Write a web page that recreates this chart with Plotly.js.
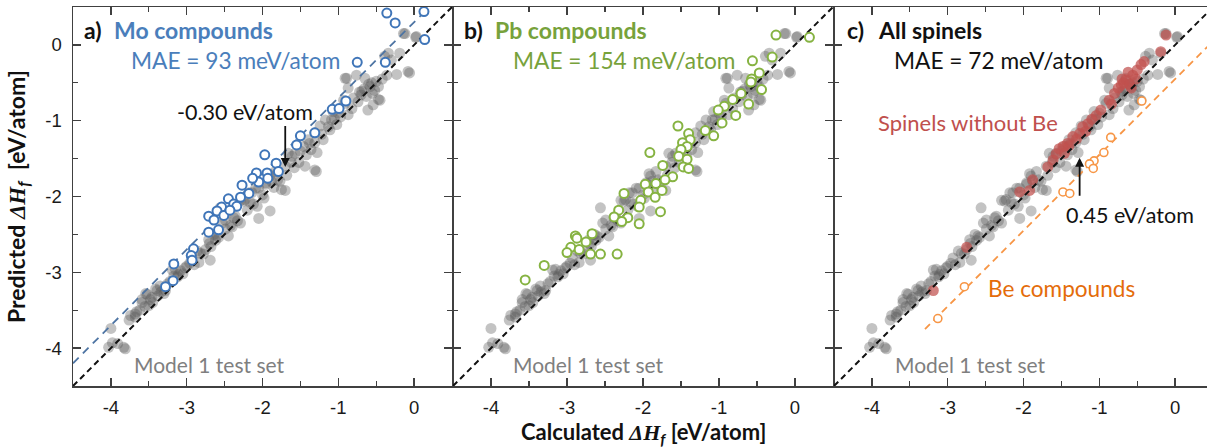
<!DOCTYPE html>
<html>
<head>
<meta charset="utf-8">
<script src="https://cdn.plot.ly/plotly-3.0.1.min.js"></script>
<style>html,body{margin:0;padding:0;background:#fff;}#chart{width:1207px;height:448px;}</style>
</head>
<body>
<div id="chart"></div>
<script>
// ---------- data ----------
const tickVals = [-4, -3, -2, -1, 0];
const tickText = ["-4", "-3", "-2", "-1", "0"];
const minorTickVals = [-4.5, -3.5, -2.5, -1.5, -0.5, 0.5];
const parityX = [-4.5, 0.5];
const moOffset = 0.30;      // eV/atom
const beOffset = -0.45;     // eV/atom
const moLineX = [-4.5, 0.2];
const beLineX = [-3.3, 0.5];

// Model 1 test set (calculated, predicted)
const grayX = [-4.03,-3.98,-3.91,-3.83,-3.81,-4.00,-3.76,-3.68,-3.74,-3.68,-3.59,-3.59,-3.54,-3.52,-3.50,-3.46,-3.41,-3.39,-3.35,-3.28,-3.45,-3.38,-3.30,-3.62,-3.48,-3.22,
  -3.19,-3.17,-3.15,-3.11,-3.02,-3.05,-3.08,-2.96,-2.93,-2.90,-2.84,-2.78,-2.75,-2.71,-2.68,-2.69,-2.86,-2.64,-2.62,-2.58,-2.56,-2.53,-2.49,-2.49,-2.45,-2.40,
  -2.36,-2.33,-2.29,-2.29,-2.25,-2.23,-2.18,-2.14,-2.20,-2.12,-2.09,-2.07,-2.05,-2.05,-1.98,-1.96,-1.96,-1.92,-1.90,-1.90,-1.85,-1.83,-1.77,-1.75,-1.70,-1.70,
  -1.66,-1.68,-1.61,-1.57,-1.58,-1.52,-1.46,-1.44,-1.40,-1.42,-1.36,-1.31,-1.31,-1.31,-1.29,-1.28,-1.24,-1.20,-1.17,-1.11,-1.09,-1.07,-1.02,-1.00,-0.93,-0.91,
  -0.91,-0.89,-0.87,-0.87,-0.82,-0.76,-0.74,-0.70,-0.69,-0.65,-0.63,-0.61,-0.58,-0.56,-0.54,-0.52,-0.47,-0.47,-0.45,-0.42,-0.39,-0.36,-0.34,-0.30,-0.23,-0.19,
  -0.14,-0.12,-0.08,0.02,0.03,-0.06,-0.80,-0.66,-0.50,-0.97,-1.13,-1.50,-1.80,-2.00,-2.42,-2.70,-3.00,-3.25,-3.55,
  -0.60,-0.72,-0.55,-1.05,-1.22,-1.38,-1.62,-1.88,-2.16,-2.38,-2.60,-2.82,-3.12,-3.34,-3.66];
const grayY = [-3.99,-3.93,-3.94,-3.99,-4.01,-3.74,-3.63,-3.59,-3.57,-3.55,-3.36,-3.40,-3.28,-3.29,-3.44,-3.33,-3.22,-3.24,-3.18,-3.24,-3.40,-3.31,-3.28,-3.50,-3.36,-3.12,
  -2.97,-3.05,-2.96,-3.03,-2.94,-3.02,-2.98,-2.88,-2.81,-2.90,-2.87,-2.76,-2.70,-2.57,-2.66,-2.84,-2.72,-2.50,-2.58,-2.54,-2.15,-2.35,-2.43,-2.31,-2.52,-2.40,
  -2.26,-2.32,-2.35,-2.05,-2.06,-2.04,-1.95,-1.95,-2.18,-2.10,-1.89,-2.13,-1.89,-2.29,-2.02,-1.82,-1.84,-1.70,-2.19,-1.73,-1.88,-1.67,-1.80,-1.91,-1.60,-1.92,
  -1.43,-1.72,-1.47,-1.43,-1.62,-1.55,-1.34,-1.60,-1.25,-1.45,-1.38,-1.16,-1.29,-1.65,-1.67,-1.42,-1.07,-1.25,-0.99,-1.12,-0.99,-0.88,-1.05,-0.90,-0.73,-0.77,
  -0.44,-0.44,-0.57,-0.92,-0.84,-0.40,-0.75,-0.66,-0.61,-0.44,-0.68,-0.86,-0.55,-0.50,-0.79,-0.60,-0.55,-0.72,-0.73,-0.45,-0.15,-0.40,-0.11,-0.20,-0.39,-0.11,
  0.15,0.15,-0.35,0.10,0.11,-0.37,-0.70,-0.58,-0.48,-0.95,-1.08,-1.40,-1.78,-1.98,-2.38,-2.62,-2.92,-3.15,-3.45,
  -0.52,-0.62,-0.64,-0.98,-1.18,-1.30,-1.55,-1.80,-2.08,-2.28,-2.52,-2.75,-3.06,-3.26,-3.52];

// Mo compounds (panel a)
const moX = [-0.36,-0.25,0.13,0.14,-0.75,-0.38,-1.08,-0.99,-0.90,-1.31,-1.50,-1.55,-1.97,-1.82,-1.79,-2.08,-1.94,-1.93,-2.05,-2.13,
  -2.27,-2.18,-2.29,-2.45,-2.38,-2.34,-2.54,-2.60,-2.71,-2.64,-2.51,-2.71,-2.58,-2.91,-2.94,-2.93,-3.17,-3.18,-3.28,-2.43];
const moY = [0.42,0.29,0.44,0.07,-0.23,-0.23,-0.85,-0.84,-0.74,-1.16,-1.20,-1.32,-1.45,-1.56,-1.67,-1.69,-1.69,-1.76,-1.81,-1.76,
  -1.85,-1.96,-2.01,-2.03,-2.10,-2.13,-2.14,-2.19,-2.26,-2.31,-2.25,-2.47,-2.44,-2.69,-2.78,-2.84,-2.89,-3.11,-3.19,-2.18];

// Pb compounds (panel b)
const pbX = [-0.25,0.19,-0.56,-0.30,-0.47,-0.57,-0.58,-0.44,-0.71,-0.82,-0.61,-0.93,-1.01,-0.78,-0.96,-1.54,-1.18,-1.07,-1.40,-1.38,
  -1.48,-1.42,-1.50,-1.91,-1.53,-1.42,-1.47,-1.40,-1.61,-1.74,-1.71,-1.97,-1.83,-1.75,-1.93,-1.84,-2.25,-2.03,-2.05,-1.77,
  -2.32,-2.20,-2.38,-2.05,-2.28,-2.67,-2.89,-2.87,-2.95,-2.84,-2.75,-3.00,-2.69,-2.56,-2.34,-3.30,-3.55];
const pbY = [0.13,0.10,-0.21,-0.16,-0.37,-0.45,-0.49,-0.59,-0.64,-0.72,-0.78,-0.81,-0.86,-0.93,-1.03,-1.07,-1.13,-1.20,-1.17,-1.25,
  -1.29,-1.34,-1.38,-1.42,-1.47,-1.51,-1.61,-1.63,-1.74,-1.59,-1.78,-1.84,-1.83,-1.92,-1.94,-2.01,-1.96,-2.05,-2.14,-2.20,
  -2.18,-2.28,-2.27,-2.36,-2.33,-2.49,-2.52,-2.55,-2.67,-2.70,-2.60,-2.74,-2.76,-2.76,-2.76,-2.91,-3.10];

// Spinels without Be (panel c)
const spX = [-0.12,-0.19,-0.41,-0.45,-0.56,-0.65,-0.71,-0.75,-0.80,-0.58,-0.87,-0.98,-1.04,-1.15,-1.22,-1.26,-1.35,-1.42,-1.48,-1.53,
  -1.46,-1.61,-1.68,-1.88,-2.05,-1.92,-2.75,-3.19,-1.18,-0.50,-0.68,-0.62,-0.70,-0.52,-0.60,-0.84,-1.10,-1.30,-1.40,-1.57];
const spY = [0.13,-0.09,-0.22,-0.26,-0.40,-0.46,-0.53,-0.57,-0.64,-0.57,-0.73,-0.86,-0.93,-1.04,-1.08,-1.17,-1.21,-1.30,-1.34,-1.37,
  -1.43,-1.52,-1.61,-1.78,-1.94,-1.92,-2.67,-3.24,-1.14,-0.33,-0.50,-0.36,-0.45,-0.45,-0.52,-0.78,-0.98,-1.24,-1.33,-1.44];

// Be compounds (panel c)
const beX = [-0.44,-0.85,-0.94,-1.07,-1.13,-1.08,-1.48,-1.39,-2.78,-3.13];
const beY = [-0.74,-1.22,-1.42,-1.53,-1.57,-1.63,-1.94,-1.96,-3.19,-3.61];

// ---------- style ----------
const AX = '#404040';
const BLUE = '#4A7EBB', BLUE_LINE = '#4D74A3';
const GREEN = '#77A23B', GREEN_M = '#86B342';
const RED = '#C0504D';
const ORANGE = '#F79646', ORANGE_T = '#E46C0A';
const GRAYT = '#7F7F7F';
const LAB = 'Lato, "Open Sans", sans-serif';

const addY = (xs, off) => xs.map(v => v + off);

function grayTrace(n) {
  return {x: grayX, y: grayY, xaxis: 'x' + n, yaxis: 'y' + n, type: 'scatter', mode: 'markers',
    marker: {size: 11, color: 'rgba(90,90,90,0.36)', line: {width: 0}}, hoverinfo: 'skip'};
}
function parityTrace(n) {
  return {x: parityX, y: parityX, xaxis: 'x' + n, yaxis: 'y' + n, type: 'scatter', mode: 'lines',
    line: {color: '#111', width: 2, dash: '6px,4px'}, hoverinfo: 'skip'};
}

const traces = [
  grayTrace(''), parityTrace(''),
  {x: moLineX, y: addY(moLineX, moOffset), xaxis: 'x', yaxis: 'y', type: 'scatter', mode: 'lines',
   line: {color: BLUE_LINE, width: 1.8, dash: '8px,6px'}, hoverinfo: 'skip'},
  {x: moX, y: moY, xaxis: 'x', yaxis: 'y', type: 'scatter', mode: 'markers',
   marker: {size: 9, color: 'white', line: {color: '#3F75B8', width: 2}}, hoverinfo: 'skip'},

  grayTrace(2), parityTrace(2),
  {x: pbX, y: pbY, xaxis: 'x2', yaxis: 'y2', type: 'scatter', mode: 'markers',
   marker: {size: 9, color: 'white', line: {color: GREEN_M, width: 2}}, hoverinfo: 'skip'},

  grayTrace(3),
  {x: spX, y: spY, xaxis: 'x3', yaxis: 'y3', type: 'scatter', mode: 'markers',
   marker: {size: 11, color: 'rgba(192,80,77,0.72)', line: {width: 0}}, hoverinfo: 'skip'},
  parityTrace(3),
  {x: beLineX, y: addY(beLineX, beOffset), xaxis: 'x3', yaxis: 'y3', type: 'scatter', mode: 'lines',
   line: {color: ORANGE, width: 1.8, dash: '7px,5px'}, hoverinfo: 'skip'},
  {x: beX, y: beY, xaxis: 'x3', yaxis: 'y3', type: 'scatter', mode: 'markers',
   marker: {size: 8, color: 'white', line: {color: ORANGE, width: 1.6}}, hoverinfo: 'skip'}
];

const W = 1207, H = 448;
const yDom = [1 - 386 / H, 1 - 7 / H];
function axis(extra) {
  return Object.assign({
    showline: true, linecolor: AX, linewidth: 1.5, mirror: 'allticks',
    ticks: 'inside', ticklen: 8, tickwidth: 1.5, tickcolor: AX,
    showgrid: false, zeroline: false, fixedrange: true,
    tickmode: 'array', tickvals: tickVals, ticktext: tickText,
    tickfont: {family: '"Liberation Sans", Arial, sans-serif', size: 18.5, color: '#1a1a1a'},
    minor: {tickmode: 'array', tickvals: minorTickVals, ticks: 'inside', ticklen: 5, tickwidth: 1.3, tickcolor: AX}
  }, extra);
}

const layout = {
  width: W, height: H, margin: {l: 0, r: 0, t: 0, b: 0},
  paper_bgcolor: 'white', plot_bgcolor: 'white', showlegend: false,
  xaxis:  axis({domain: [73 / W, 452 / W], range: [-4.5, 0.5], anchor: 'y', ticklabelstandoff: 4}),
  yaxis:  axis({domain: yDom, range: [-4.5, 0.5], anchor: 'x', ticklabelstandoff: 6}),
  xaxis2: axis({domain: [453 / W, 833 / W], range: [-4.5, 0.5], anchor: 'y2', ticklabelstandoff: 4}),
  yaxis2: axis({domain: yDom, range: [-4.5, 0.5], anchor: 'x2', showticklabels: false}),
  xaxis3: axis({domain: [834 / W, 1], range: [-4.5, 0.42], anchor: 'y3', ticklabelstandoff: 4}),
  yaxis3: axis({domain: yDom, range: [-4.5, 0.5], anchor: 'x3', showticklabels: false, mirror: false}),
  annotations: []
};

function txt(n, x, y, text, color, size, bold, anchor) {
  layout.annotations.push({xref: 'x' + n, yref: 'y' + n, x: x, y: y, text: text, showarrow: false,
    xanchor: anchor || 'left', yanchor: 'middle',
    font: {family: LAB, size: size, color: color, weight: bold ? 'bold' : 'normal'}});
}
// panel a
txt('', -4.38, 0.20, 'a)', '#111', 23, true);
txt('', -3.98, 0.20, 'Mo compounds', BLUE, 23, true);
txt('', -3.76, -0.21, 'MAE = 93 meV/atom', BLUE, 22.7, false);
txt('', -3.15, -0.89, '-0.30 eV/atom', '#111', 21.5, false);
txt('', -3.72, -4.22, 'Model 1 test set', GRAYT, 21, false);
// panel b
txt(2, -4.38, 0.20, 'b)', '#111', 23, true);
txt(2, -3.98, 0.20, 'Pb compounds', GREEN, 23, true);
txt(2, -3.74, -0.21, 'MAE = 154 meV/atom', GREEN, 22.7, false);
txt(2, -3.74, -4.22, 'Model 1 test set', GRAYT, 21, false);
// panel c
txt(3, -4.36, 0.20, 'c)', '#111', 23, true);
txt(3, -3.95, 0.20, 'All spinels', '#111', 23, true);
txt(3, -3.73, -0.21, 'MAE = 72 meV/atom', '#111', 22.7, false);
txt(3, -3.95, -1.03, 'Spinels without Be', RED, 22, false);
txt(3, -1.47, -2.24, '0.45 eV/atom', '#111', 21.5, false);
txt(3, -2.49, -3.22, 'Be compounds', ORANGE_T, 22.6, false);
txt(3, -3.72, -4.22, 'Model 1 test set', GRAYT, 21, false);

// arrows
layout.annotations.push({xref: 'x', yref: 'y', axref: 'x', ayref: 'y', x: -1.70, y: -1.61, ax: -1.70, ay: -1.05,
  showarrow: true, arrowhead: 2, arrowsize: 1, arrowwidth: 1.8, arrowcolor: '#111', text: ''});
layout.annotations.push({xref: 'x3', yref: 'y3', axref: 'x3', ayref: 'y3', x: -1.26, y: -1.49, ax: -1.26, ay: -2.01,
  showarrow: true, arrowhead: 2, arrowsize: 1, arrowwidth: 1.8, arrowcolor: '#111', text: ''});

// axis titles
const dH = '<span style="font-family:\'Liberation Serif\',serif"><i>ΔH</i></span><sub><i>f</i></sub>';
layout.annotations.push({xref: 'paper', yref: 'paper', x: 18 / W, y: 1 - 197 / H, textangle: -90,
  text: 'Predicted ' + dH + '  [eV/atom]', showarrow: false, xanchor: 'center', yanchor: 'middle',
  font: {family: LAB, size: 23, color: '#111', weight: 'bold'}});
layout.annotations.push({xref: 'paper', yref: 'paper', x: 643 / W, y: 1 - 433 / H,
  text: 'Calculated ' + dH + ' [eV/atom]', showarrow: false, xanchor: 'center', yanchor: 'middle',
  font: {family: LAB, size: 22, color: '#111', weight: 'bold'}});

Plotly.newPlot('chart', traces, layout, {staticPlot: true, displayModeBar: false});
</script>
</body>
</html>
